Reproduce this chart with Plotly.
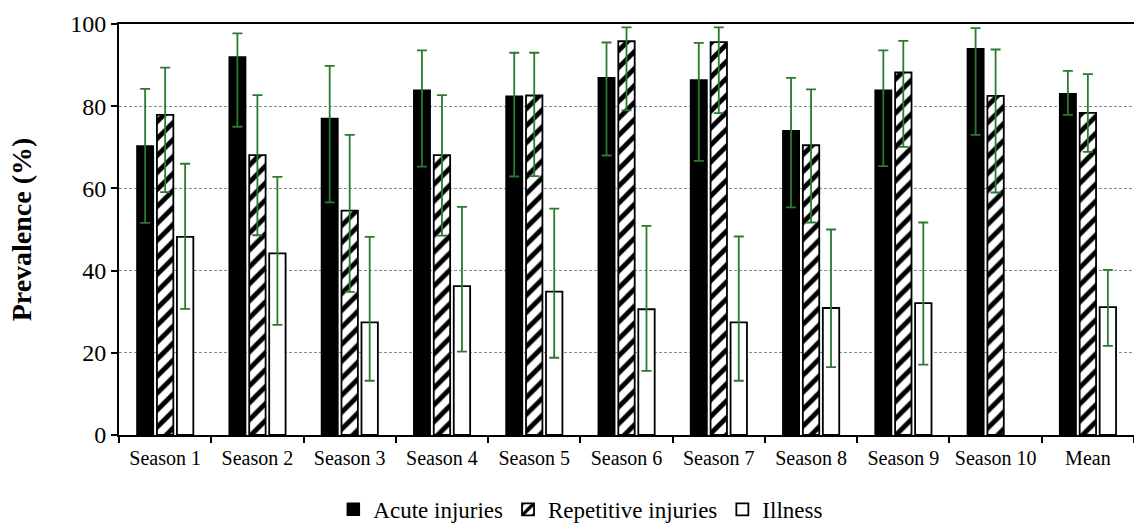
import plotly.graph_objects as go

categories = ["Season 1", "Season 2", "Season 3", "Season 4", "Season 5", "Season 6",
              "Season 7", "Season 8", "Season 9", "Season 10", "Mean"]

acute = [70.3, 92.0, 77.0, 83.9, 82.4, 86.9, 86.4, 74.0, 83.9, 94.0, 83.0]
acute_hi = [84.2, 97.7, 89.8, 93.6, 93.0, 95.5, 95.4, 86.9, 93.6, 99.0, 88.6]
acute_lo = [51.6, 75.0, 56.6, 65.3, 62.9, 68.0, 66.7, 55.4, 65.4, 73.0, 77.9]

repetitive = [77.9, 68.1, 54.6, 68.1, 82.6, 95.8, 95.6, 70.5, 88.2, 82.5, 78.4]
repetitive_hi = [89.4, 82.7, 73.0, 82.7, 93.0, 99.2, 99.2, 84.1, 95.9, 93.8, 87.8]
repetitive_lo = [59.1, 48.6, 34.8, 48.5, 63.0, 79.0, 78.3, 51.7, 70.1, 59.0, 68.9]

illness = [48.2, 44.2, 27.4, 36.2, 34.9, 30.6, 27.4, 30.9, 32.1, None, 31.1]
illness_hi = [66.0, 62.8, 48.2, 55.5, 55.1, 50.9, 48.3, 50.0, 51.7, None, 40.2]
illness_lo = [30.7, 26.8, 13.2, 20.3, 18.8, 15.6, 13.2, 16.5, 17.1, None, 21.7]

ERR_COLOR = "#2b7a2e"
FONT = "'Liberation Serif', 'Times New Roman', serif"


def err(vals, hi, lo):
    plus = [None if v is None else h - v for v, h in zip(vals, hi)]
    minus = [None if v is None else v - l for v, l in zip(vals, lo)]
    return dict(type="data", symmetric=False, array=plus, arrayminus=minus,
                color=ERR_COLOR, thickness=1.8, width=5)


fig = go.Figure()
fig.add_trace(go.Bar(
    name="Acute injuries", x=categories, y=acute,
    marker=dict(color="black", line=dict(color="black", width=1.5)),
    error_y=err(acute, acute_hi, acute_lo)))
fig.add_trace(go.Bar(
    name="Repetitive injuries", x=categories, y=repetitive,
    marker=dict(color="white", line=dict(color="black", width=1.8),
                pattern=dict(shape="/", fgcolor="black", bgcolor="white",
                             fgopacity=1, size=12, solidity=0.4, fillmode="replace")),
    error_y=err(repetitive, repetitive_hi, repetitive_lo)))
fig.add_trace(go.Bar(
    name="Illness", x=categories, y=illness,
    marker=dict(color="white", line=dict(color="black", width=1.8)),
    error_y=err(illness, illness_hi, illness_lo)))

fig.update_layout(
    width=1134, height=523,
    margin=dict(l=119, r=0, t=24, b=88),
    plot_bgcolor="white", paper_bgcolor="white",
    barmode="group", bargap=0.35, bargroupgap=0.18,
    font=dict(family=FONT, color="black", size=20),
    legend=dict(orientation="h", x=0.455, xanchor="center",
                yref="container", y=0.026, yanchor="middle",
                font=dict(family=FONT, size=23), itemwidth=30, traceorder="normal",
                tracegroupgap=0),
    showlegend=True,
)
fig.update_xaxes(
    showline=True, linecolor="black", linewidth=2, mirror=True,
    ticks="outside", tickson="boundaries", ticklen=6, tickcolor="black", tickwidth=1.5,
    tickfont=dict(family=FONT, size=20), showgrid=False, automargin=False,
    ticklabelstandoff=4,
)
fig.update_yaxes(
    range=[0, 100], dtick=20, showline=True, linecolor="black", linewidth=2,
    ticks="outside", ticklen=6, tickcolor="black", tickwidth=1.5,
    tickfont=dict(family=FONT, size=24),
    showgrid=True, gridcolor="#8a8a8a", gridwidth=1, griddash="3px,2px",
    zeroline=False, automargin=False,
    title=dict(text="<b>Prevalence (%)</b>", font=dict(family=FONT, size=28), standoff=30),
)

# remove the default 8px page margin so the figure fills the window exactly
fig.write_html("out.html", config={"displayModeBar": False},
               post_script="document.body.style.margin='0';")
